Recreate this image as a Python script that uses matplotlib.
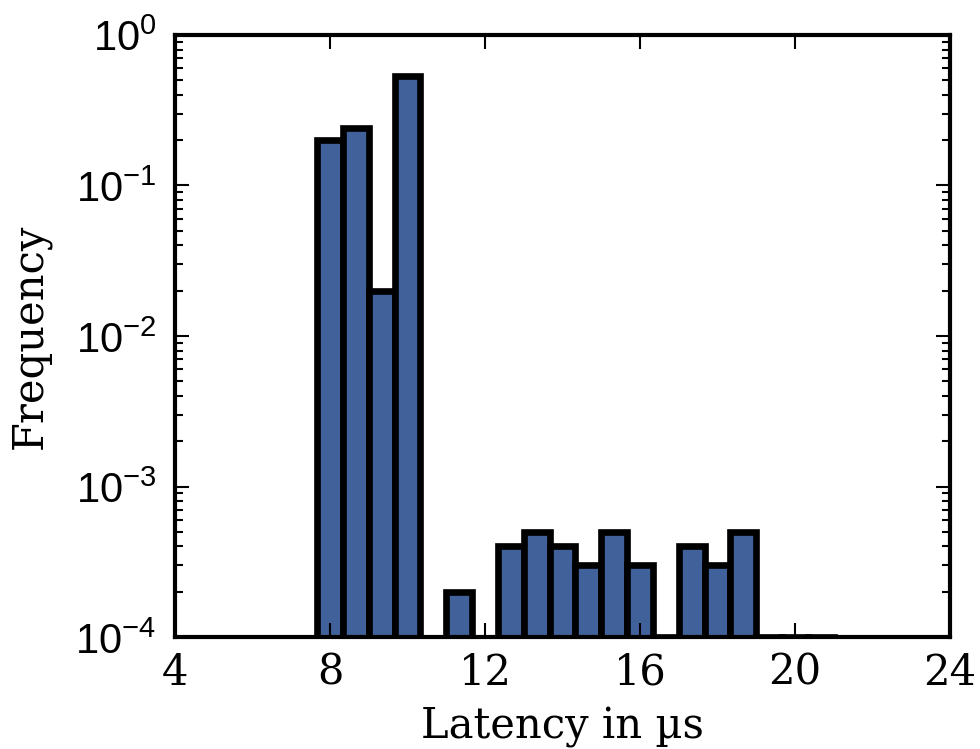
#!/usr/bin/env python
"""Latency histogram (log frequency)."""

import matplotlib

matplotlib.use("Agg")
import matplotlib.pyplot as plt
import numpy as np
from matplotlib.ticker import FuncFormatter, LogLocator

# histogram bins (left edges, µs) and normalised counts
BIN_WIDTH = 2 / 3
bin_left = [7.667, 8.333, 9.0, 9.667, 11.0, 12.333, 13.0, 13.667, 14.333,
            15.0, 15.667, 16.333, 17.0, 17.667, 18.333, 19.0, 19.667, 20.333]
freq = [0.2, 0.24, 0.02, 0.535, 2e-4, 4e-4, 5e-4, 4e-4, 3e-4,
        5e-4, 3e-4, 1e-4, 4e-4, 3e-4, 5e-4, 1e-4, 1e-4, 1e-4]
x_ticks = [4, 8, 12, 16, 20, 24]

BAR = "#41619a"


def main():
    plt.rcParams["font.family"] = "serif"
    plt.rcParams["font.serif"] = ["DejaVu Serif"]
    plt.rcParams["font.size"] = 20
    plt.rcParams["mathtext.fontset"] = "custom"
    plt.rcParams["mathtext.rm"] = "Liberation Sans"
    plt.rcParams["mathtext.it"] = "Liberation Sans:italic"
    plt.rcParams["mathtext.bf"] = "Liberation Sans:bold"

    fig = plt.figure(figsize=(980 / 150, 749 / 150), dpi=150)
    ax = fig.add_axes([0.1786, 0.1495, 0.7908, 0.8038])
    ax.set_yscale("log")

    ax.bar(bin_left, freq, width=BIN_WIDTH, align="edge",
           color=BAR, edgecolor="black", linewidth=3.2)

    ax.set_xlim(4, 24)
    ax.set_ylim(1e-4, 1)
    ax.set_xticks(x_ticks)
    ax.yaxis.set_major_locator(LogLocator(base=10))
    ax.yaxis.set_minor_locator(LogLocator(base=10, subs=np.arange(2, 10)))
    ax.yaxis.set_major_formatter(
        FuncFormatter(lambda v, pos: r"$\mathrm{10^{%d}}$" % round(np.log10(v))))

    for s in ax.spines.values():
        s.set_linewidth(2)
    ax.tick_params(which="both", direction="in", top=True, right=True, width=1)
    ax.tick_params(which="major", length=6.5)
    ax.tick_params(which="minor", length=4)
    ax.tick_params(axis="x", pad=7)
    ax.tick_params(axis="y", pad=9)

    ax.set_xlabel("Latency in µs", labelpad=6)
    ax.set_ylabel("Frequency", labelpad=12)

    fig.savefig("out.png", dpi=150, facecolor="white")
    plt.close()


if __name__ == "__main__":
    main()
